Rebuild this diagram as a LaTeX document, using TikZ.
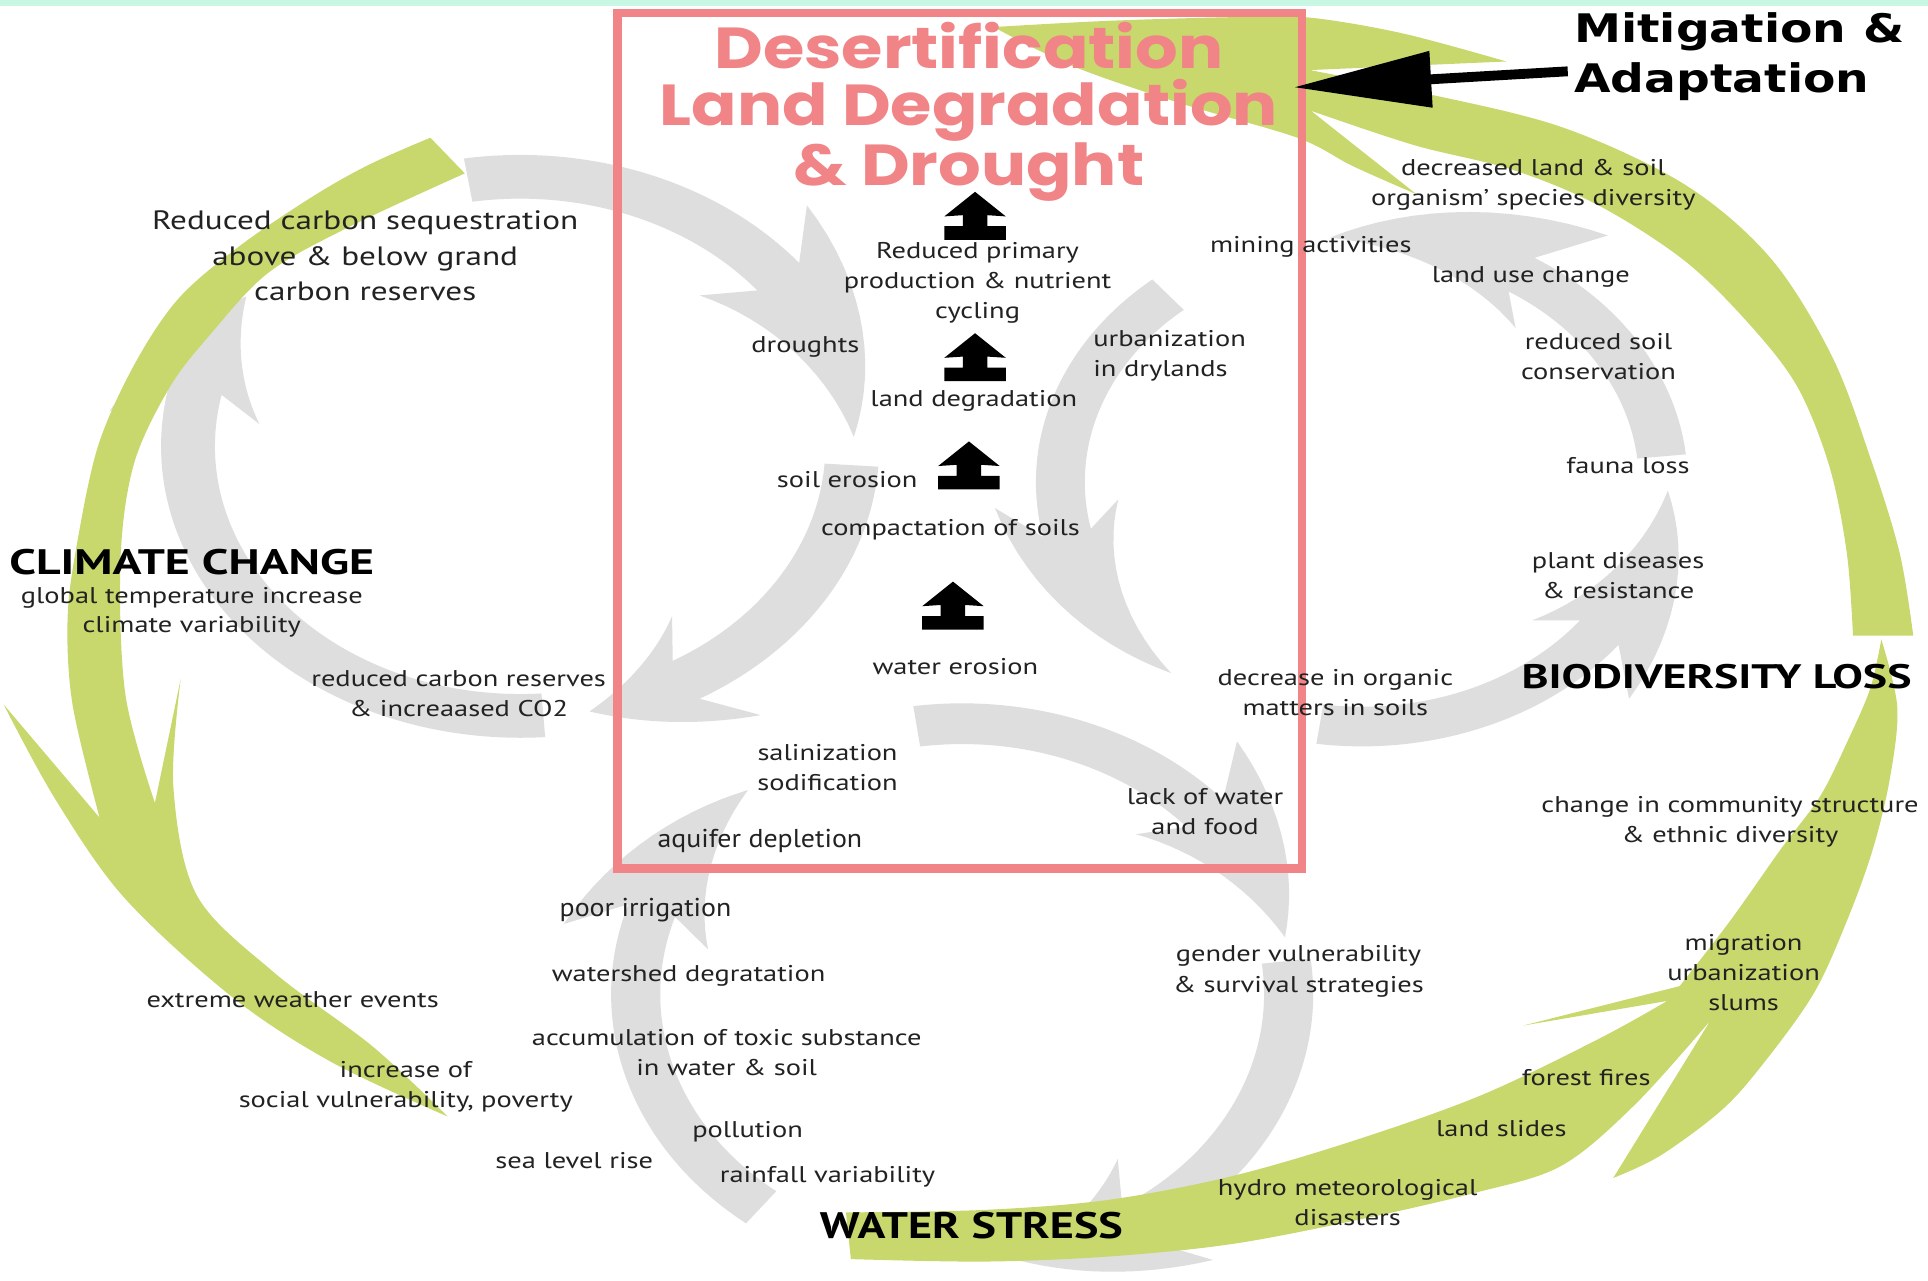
\documentclass[tikz,border=0pt]{standalone}
\usepackage{fontspec}
\setmainfont{PT Sans}[FakeStretch=1.25]
\newfontfamily\condfont{PT Sans}[FakeStretch=1.08]
\newfontfamily\hubfont{PT Sans}[FakeStretch=1.35]
\newfontfamily\mitfont{DejaVu Sans}[FakeStretch=1.2]
\newfontfamily\titlefont{Poppins}[FakeStretch=1.16]
\usetikzlibrary{arrows.meta}
\definecolor{ringgrey}{RGB}{222,222,222}
\definecolor{leaf}{RGB}{200,216,108}
\definecolor{pinkc}{RGB}{240,132,134}
\definecolor{mint}{RGB}{200,248,228}
\definecolor{txt}{RGB}{34,34,34}
\newcommand\ringcenter[5]{\def\rgcx{#1}\def\rgcy{#2}\def\rgrx{#3}\def\rgry{#4}%
  \pgfmathsetmacro\rgrxi{#3*#5}\pgfmathsetmacro\rgryi{#4*#5}}
% #1 tail angle, #2 head base, #3 barb angle, #4 tip angle, #5 outer barb factor, #6 inner barb factor, #7 tip factor
\newcommand\ringarrow[7]{%
  \fill[ringgrey, shift={(\rgcx,\rgcy)}]
   ({\rgrx*cos(#1)},{\rgry*sin(#1)})
   arc[start angle=#1, end angle=#2, x radius=\rgrx, y radius=\rgry]
   -- ({#5*\rgrx*cos(#3)},{#5*\rgry*sin(#3)})
   -- plot[domain=#3:#4, samples=16] ({(#5+(#7-#5)*(\x-(#3))/((#4)-(#3)))*\rgrx*cos(\x)},{(#5+(#7-#5)*(\x-(#3))/((#4)-(#3)))*\rgry*sin(\x)})
   -- plot[domain=#4:#3, samples=16] ({(#7+(#6-#7)*(\x-(#4))/((#3)-(#4)))*\rgrx*cos(\x)},{(#7+(#6-#7)*(\x-(#4))/((#3)-(#4)))*\rgry*sin(\x)})
   -- ({\rgrxi*cos(#2)},{\rgryi*sin(#2)})
   arc[start angle=#2, end angle=#1, x radius=\rgrxi, y radius=\rgryi] -- cycle;}
\tikzset{
  lbl/.style={align=center, inner sep=0pt, text=txt, font=\fontsize{18.5}{24.5}\selectfont},
  biglbl/.style={lbl, font=\fontsize{21.6}{28.5}\selectfont},
  condlbl/.style={lbl, font=\condfont\fontsize{21}{26}\selectfont},
  hub/.style={inner sep=0pt, text=black, font=\hubfont\bfseries\fontsize{28.8}{34}\selectfont},
  uparr/.pic={\fill[black] (0,0) -- (25,20) -- (10,19) -- (10,28) -- (25,28) -- (25,39) -- (-25,39) -- (-25,28) -- (-10,28) -- (-10,19) -- (-25,20) -- cycle;}
}
\begin{document}
\begin{tikzpicture}[x=1pt,y=-1pt]
\useasboundingbox (0,0) rectangle (1568,1041);
\clip (0,0) rectangle (1568,1041);
\fill[white] (0,0) rectangle (1568,1041);
\fill[mint] (0,0) rectangle (1568,5);
% grey rings
\ringcenter{423}{363}{292}{237}{0.85}
\ringarrow{-99}{-39}{-46}{-2}{1.15}{0.72}{0.93}
\ringarrow{4}{60}{54}{78}{1.14}{0.72}{0.93}
\ringarrow{86}{192}{186}{214}{1.15}{0.73}{0.92}
\ringcenter{1107.5}{392}{265}{215}{0.85}
\ringarrow{230}{168}{175}{129}{1.13}{0.75}{0.93}
\ringarrow{98}{38}{45}{2}{1.16}{0.74}{0.94}
\ringarrow{-6}{-58}{-51}{-96}{1.2}{0.75}{0.93}
\ringcenter{782.5}{808.5}{285.5}{236.5}{0.86}
\ringarrow{-98}{-42}{-48}{-12}{1.17}{0.74}{0.94}
\ringarrow{-7}{58}{52}{80}{1.16}{0.72}{0.93}
\ringarrow{128}{198}{192}{229}{1.16}{0.74}{0.93}
% green arrows
\fill[leaf] plot[smooth,tension=0.55] coordinates {(350,112) (300,134) (254,160) (195,200) (145,243) (109,297) (80,362) (63,440) (55,502) (59,573) (81,665)}
 -- (3,573)
 -- plot[smooth,tension=0.55] coordinates {(3,573) (45,650) (101,730) (189,811) (270,864) (364,908)}
 -- plot[smooth,tension=0.55] coordinates {(364,908) (303,851) (223,791) (160,728) (141,640) (147,552)}
 -- (126,653)
 -- plot[smooth,tension=0.55] coordinates {(126,653) (102,565) (98,455) (109,377) (138,315) (171,272) (218,222) (283,185) (378,141)}
 -- cycle;
\fill[leaf] plot[smooth,tension=0.55] coordinates {(808,22) (900,17) (1000,14) (1062,14) (1140,27) (1225,50)}
 -- (1065,57)
 -- plot[smooth,tension=0.55] coordinates {(1065,57) (1150,74) (1269,103) (1370,150) (1440,210) (1490,290) (1522,375) (1545,450) (1556,517)}
 -- (1507,517)
 -- plot[smooth,tension=0.55] coordinates {(1507,517) (1502,450) (1488,380) (1462,315) (1423,264) (1370,212) (1300,167) (1230,138) (1150,118) (1066,90)}
 -- (1152,158)
 -- plot[smooth,tension=0.55] coordinates {(1152,158) (1100,135) (1055,112) (960,84) (873,54) (808,22)}
 -- cycle;
\fill[leaf] (688,986) -- (692,1024)
 -- plot[smooth,tension=0.55] coordinates {(692,1024) (800,1026) (900,1022) (1000,1012) (1100,993) (1200,970) (1270,948) (1330,898) (1391,830)}
 -- (1312,958)
 -- plot[smooth,tension=0.55] coordinates {(1312,958) (1350,940) (1400,903) (1434,865) (1475,808) (1502,749) (1523,691) (1537,633) (1543,575) (1530,520)}
 -- plot[smooth,tension=0.55] coordinates {(1530,520) (1521,560) (1502,604) (1480,648) (1448,691) (1407,749) (1366,802)}
 -- (1239,834) -- (1356,814)
 -- plot[smooth,tension=0.55] coordinates {(1356,814) (1300,845) (1204,891) (1100,928) (1000,957) (900,976) (800,984) (688,986)}
 -- cycle;
% pink box and title
\node[draw=pinkc, line width=7pt, minimum width=557pt, minimum height=696pt, inner sep=0pt, outer sep=0pt] (box) at (780.5,358.5) {};
\node[text=pinkc, align=center, inner sep=0pt, font=\titlefont\bfseries\fontsize{47}{46.5}\selectfont] (title) at (788,91) {Desertification\\Land Degradation\\\& Drought};
% up arrows
\pic at (793,156) {uparr};
\pic at (793,271) {uparr};
\pic at (788,359) {uparr};
\pic at (775,473) {uparr};
% mitigation
\node[align=left, anchor=west, inner sep=0pt, text=black, font=\mitfont\bfseries\fontsize{32}{40}\selectfont] (mit) at (1280,46) {Mitigation \&\\Adaptation};
\coordinate (mstart) at (1275,58);
\coordinate (mtip) at (1052,71);
\draw[line width=8pt, -{Triangle[length=112pt, width=44pt]}] (mstart) -- (mtip);
% labels
\node[biglbl] (rcs) at (297,208) {Reduced carbon sequestration\\above \& below grand\\carbon reserves};
\node[hub] (cc) at (156,457) {CLIMATE CHANGE};
\node[lbl, font=\fontsize{18.5}{24}\selectfont] (gti) at (156,498) {global temperature increase\\climate variability};
\node[lbl] (rcr) at (373,564) {reduced carbon reserves\\\& increaased CO2};
\node[lbl] (dro) at (655,282) {droughts};
\node[lbl] (rpp) at (795,230) {Reduced primary\\production \& nutrient\\cycling};
\node[lbl] (ldg) at (792,326) {land degradation};
\node[lbl] (ser) at (689,390) {soil erosion};
\node[lbl] (cos) at (773,431) {compactation of soils};
\node[lbl] (wer) at (777,542) {water erosion};
\node[lbl] (sal) at (673,624) {salinization\\sodification};
\node[condlbl] (aqd) at (618,684) {aquifer depletion};
\node[lbl] (lwf) at (980,660) {lack of water\\and food};
\node[lbl, align=left, anchor=west] (urb) at (889,289) {urbanization\\in drylands};
\node[lbl] (min) at (1066,201) {mining activities};
\node[lbl] (dls) at (1247,150) {decreased land \& soil\\organism’ species diversity};
\node[lbl] (luc) at (1245,225) {land use change};
\node[lbl] (rsc) at (1300,290) {reduced soil\\conservation};
\node[lbl] (fau) at (1324,379) {fauna loss};
\node[lbl] (pdr) at (1316,468) {plant diseases\\\& resistance};
\node[hub, font=\hubfont\bfseries\fontsize{27.6}{32}\selectfont] (bio) at (1396,550) {BIODIVERSITY LOSS};
\node[lbl] (dio) at (1086,563) {decrease in organic\\matters in soils};
\node[lbl] (ccs) at (1407,668) {change in community structure\\\& ethnic diversity};
\node[lbl] (mus) at (1418,791) {migration\\urbanization\\slums};
\node[lbl] (ff) at (1290,876) {forest fires};
\node[lbl] (ls) at (1221,918) {land slides};
\node[lbl] (hmd) at (1096,978) {hydro meteorological\\disasters};
\node[hub, font=\bfseries\fontsize{30}{34}\selectfont] (ws) at (790,997) {WATER STRESS};
\node[lbl] (gvs) at (1056,790) {gender vulnerability\\\& survival strategies};
\node[condlbl] (poi) at (525,740) {poor irrigation};
\node[lbl] (wsd) at (560,794) {watershed degratation};
\node[lbl] (ats) at (591,856) {accumulation of toxic substance\\in water \& soil};
\node[lbl] (pol) at (608,920) {pollution};
\node[lbl] (slr) at (467,944) {sea level rise};
\node[lbl] (rfv) at (673,957) {rainfall variability};
\node[lbl] (ewe) at (238,813) {extreme weather events};
\node[lbl] (isv) at (330,884) {increase of\\social vulnerability, poverty};
\end{tikzpicture}
\end{document}
